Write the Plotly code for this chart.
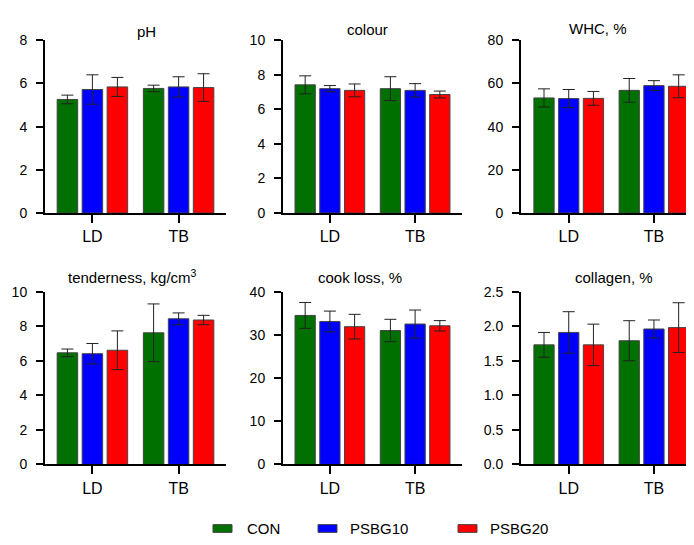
import plotly.graph_objects as go

W, H = 694, 545
OFF = 8  # page body margin offset compensation
FONT = "Arial, 'Liberation Sans', sans-serif"

categories = ["LD", "TB"]
groups = ["CON", "PSBG10", "PSBG20"]
colors = {"CON": "#007000", "PSBG10": "#0000FF", "PSBG20": "#FF0000"}

panel_titles = ["pH", "colour", "WHC, %", "tenderness, kg/cm<sup>3</sup>", "cook loss, %", "collagen, %"]

ph_mean = {"CON": [5.26, 5.77], "PSBG10": [5.72, 5.84], "PSBG20": [5.84, 5.81]}
ph_sd = {"CON": [0.20, 0.15], "PSBG10": [0.68, 0.47], "PSBG20": [0.44, 0.64]}

colour_mean = {"CON": [7.42, 7.20], "PSBG10": [7.20, 7.10], "PSBG20": [7.10, 6.86]}
colour_sd = {"CON": [0.52, 0.69], "PSBG10": [0.18, 0.39], "PSBG20": [0.37, 0.20]}

whc_mean = {"CON": [53.3, 56.8], "PSBG10": [53.0, 59.0], "PSBG20": [53.1, 58.7]}
whc_sd = {"CON": [4.2, 5.5], "PSBG10": [4.2, 2.3], "PSBG20": [3.2, 5.3]}

tend_mean = {"CON": [6.46, 7.62], "PSBG10": [6.41, 8.43], "PSBG20": [6.61, 8.36]}
tend_sd = {"CON": [0.22, 1.67], "PSBG10": [0.59, 0.34], "PSBG20": [1.12, 0.27]}

cook_mean = {"CON": [34.5, 31.0], "PSBG10": [33.1, 32.5], "PSBG20": [31.9, 32.1]}
cook_sd = {"CON": [3.0, 2.6], "PSBG10": [2.4, 3.25], "PSBG20": [2.85, 1.2]}

coll_mean = {"CON": [1.73, 1.79], "PSBG10": [1.91, 1.96], "PSBG20": [1.73, 1.98]}
coll_sd = {"CON": [0.18, 0.29], "PSBG10": [0.30, 0.13], "PSBG20": [0.30, 0.36]}

y_max = [8, 10, 80, 10, 40, 2.5]
y_dtick = [2, 2, 20, 2, 10, 0.5]
y_fmt = ["d", "d", "d", "d", "d", ".1f"]

panels = [
    (ph_mean, ph_sd), (colour_mean, colour_sd), (whc_mean, whc_sd),
    (tend_mean, tend_sd), (cook_mean, cook_sd), (coll_mean, coll_sd),
]

def fx(px):
    return (px - OFF) / W

def fy(py):
    return 1 - (py - OFF) / H

col_px = [(45, 226), (283, 462), (521, 694)]
row_px = [(33, 211), (292, 470)]
x_ranges = [[-0.55, 1.55], [-0.55, 1.55], [-0.56, 1.47]]
title_pos = [(146, 24), (367, 22), (598, 21), (132, 276), (360, 277), (614, 277)]

fig = go.Figure()
layout = {}
for i, (means, sds) in enumerate(panels):
    r, c = divmod(i, 3)
    n = "" if i == 0 else str(i + 1)
    for g in groups:
        fig.add_trace(go.Bar(
            x=categories, y=means[g], name=g, showlegend=False,
            marker=dict(color=colors[g], line=dict(color="#444444", width=1)),
            error_y=dict(type="data", array=sds[g], color="#222222", thickness=1, width=6),
            xaxis="x" + n, yaxis="y" + n,
        ))
    x0, x1 = col_px[c]
    y0, y1 = row_px[r]
    layout["xaxis" + n] = dict(
        domain=[fx(x0), fx(x1)], anchor="y" + n, range=x_ranges[c], type="category",
        showline=True, linecolor="black", linewidth=2, ticks="outside", ticklen=8,
        tickwidth=2, tickcolor="black", showgrid=False, zeroline=False,
        tickfont=dict(family=FONT, size=16, color="black"),
    )
    layout["yaxis" + n] = dict(
        domain=[fy(y1), fy(y0)], anchor="x" + n, range=[0, y_max[i]], dtick=y_dtick[i],
        tick0=0, tickformat=y_fmt[i],
        showline=True, linecolor="black", linewidth=2, ticks="outside", ticklen=7,
        tickwidth=2, tickcolor="black", showgrid=False, zeroline=False,
        tickfont=dict(family=FONT, size=14, color="black"), ticklabelstandoff=6,
    )

annotations = []
for i, t in enumerate(panel_titles):
    px, py = title_pos[i]
    annotations.append(dict(
        text=t, x=fx(px), y=fy(py), xref="paper", yref="paper",
        xanchor="center", yanchor="middle", showarrow=False,
        font=dict(family=FONT, size=15, color="black"),
    ))

# manual legend
legend_pos = [(213, 245), (318, 348), (458, 488)]
shapes = []
ly = 536
for g, (sx, tx) in zip(groups, legend_pos):
    shapes.append(dict(
        type="rect", xref="paper", yref="paper",
        x0=fx(sx), x1=fx(sx + 19), y0=fy(ly + 4), y1=fy(ly - 4),
        fillcolor=colors[g], line=dict(color="#444444", width=1),
    ))
    annotations.append(dict(
        text=g, x=fx(tx), y=fy(ly), xref="paper", yref="paper",
        xanchor="left", yanchor="middle", showarrow=False,
        font=dict(family=FONT, size=15, color="black"),
    ))

fig.update_layout(
    **layout,
    width=W, height=H, margin=dict(l=0, r=0, t=0, b=0),
    paper_bgcolor="white", plot_bgcolor="white",
    barmode="group", bargap=0.13, bargroupgap=0.18,
    annotations=annotations, shapes=shapes, showlegend=False,
)

fig.write_html("out.html")
